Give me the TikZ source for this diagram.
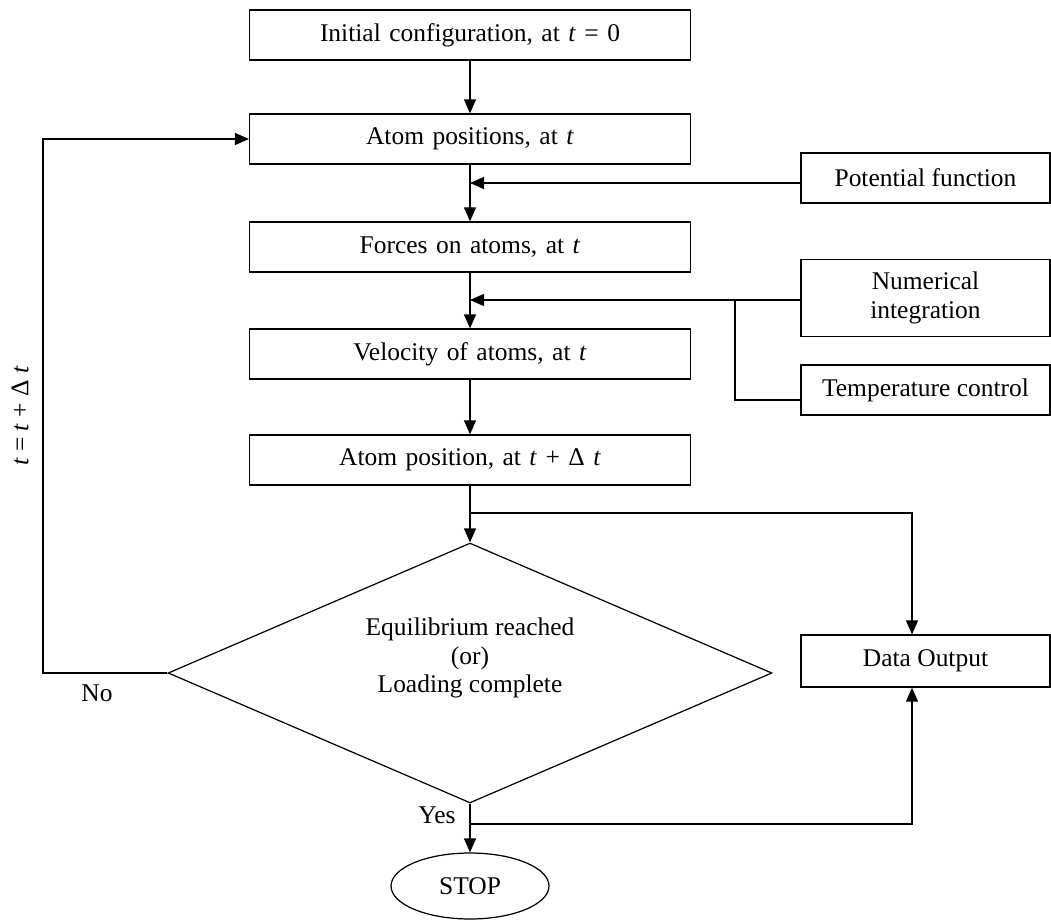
\documentclass[tikz,border=0pt]{standalone}
\usepackage{fontspec}
\setmainfont{Liberation Serif}
\usepackage{tikz}
\usetikzlibrary{shapes.geometric,arrows.meta}

\begin{document}
\begin{tikzpicture}[x=0.02cm,y=-0.02cm,font=\fontsize{14.5}{16.2}\selectfont,line width=0.7pt,>={Triangle[length=0.28cm,width=0.24cm]}]
    \tikzstyle{process} = [rectangle, draw, text width=8.6cm, text centered, minimum width=8.82cm, minimum height=1cm, inner sep=0pt]
    \tikzstyle{input} = [rectangle, draw, align=center, minimum width=4.98cm, minimum height=1cm, inner sep=0pt]
    \tikzstyle{decision} = [diamond, draw, minimum width=12.08cm, minimum height=5.2cm, inner sep=0pt]
    \tikzstyle{terminal} = [ellipse, draw, minimum width=3.16cm, minimum height=1.32cm]
    \tikzstyle{arrow} = [->, draw]
    \useasboundingbox (0,0) rectangle (1051,922);
    % main chain
    \node [process] (init) at (470,35) {Initial configuration, at \textit{t} = 0};
    \node [process] (apos) at (470,139) {Atom positions, at \textit{t}};
    \node [process] (force) at (470,247) {Forces on atoms, at \textit{t}};
    \node [process] (velo) at (470,354) {Velocity of atoms, at \textit{t}};
    \node [process] (newpos) at (470,460) {Atom position, at \textit{t} + Δ \textit{t}};
    \node [decision] (dia) at (470,673) {};
    \node [align=center] (diatext) at (470,658) {Equilibrium reached\\(or)\\Loading complete};
    \node [terminal] (stop) at (470,886) {STOP};
    % side inputs
    \node [input] (pot) at (925.5,178) {Potential function};
    \node [input, minimum height=1.54cm] (numi) at (925.5,298) {Numerical\\integration};
    \node [input] (temp) at (925.5,390) {Temperature control};
    \node [input, minimum height=1.04cm] (dout) at (925.5,661) {Data Output};
    % labels
    \node (nolab) at (97,693) {No};
    \node (yeslab) at (437,815) {Yes};
    \node [rotate=90] (steplab) at (20,416) {\textit{t} = \textit{t} + Δ \textit{t}};
    \coordinate (loopc) at (43,673);
    \coordinate (brA) at (470,513);
    \coordinate (brB) at (912,513);
    \coordinate (brC) at (470,824);
    \coordinate (jn) at (735,300);

    \draw [arrow] (init) -- (apos);
    \draw [arrow] (apos) -- (force);
    \draw [arrow] (force) -- (velo);
    \draw [arrow] (velo) -- (newpos);
    \draw [arrow] (newpos) -- (dia);
    \draw [arrow] (dia) -- (stop);
    \draw [arrow] ([yshift=-0.1cm]pot.west) -- ([yshift=-0.1cm]pot.west -| apos.south);
    \draw [arrow] ([yshift=-0.04cm]numi.west) -- ([yshift=-0.04cm]numi.west -| force.south);
    \draw ([yshift=-0.2cm]temp.west) -| (jn);
    \draw [arrow] (brA) -- (brB) -- (brB |- dout.north);
    \draw [arrow] (brC) -| (brB |- dout.south);
    \draw [arrow] (dia.west) -- (loopc) |- (apos.west);
\end{tikzpicture}
\end{document}
